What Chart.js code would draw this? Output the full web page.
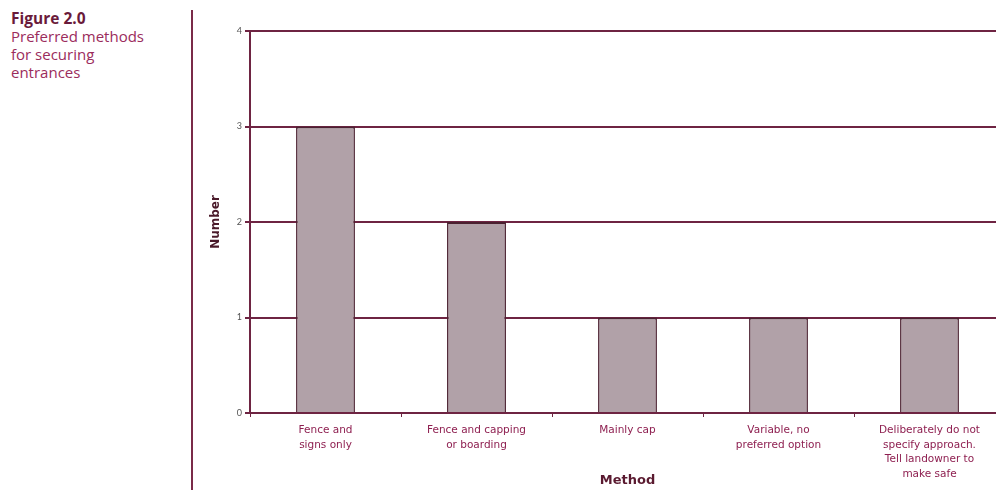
<!DOCTYPE html>
<html>
<head>
<meta charset="utf-8">
<script src="https://cdn.jsdelivr.net/npm/chart.js@4"></script>
<style>
html,body{margin:0;padding:0;background:#fff;overflow:hidden;width:996px;height:490px;}
#title{position:absolute;left:11px;top:9px;font-family:"Open Sans",sans-serif;color:#9b2c5c;font-size:15px;line-height:18px;}
#title b{color:#6a1a3a;font-size:15.5px;}
#divider{position:absolute;left:191px;top:10px;width:2px;height:480px;background:#7a2a48;}
#wrap{position:absolute;left:193px;top:0;width:812px;height:490px;}
</style>
</head>
<body>
<div id="title"><b>Figure 2.0</b><br>Preferred methods<br>for securing<br>entrances</div>
<div id="divider"></div>
<div id="wrap"><canvas id="c"></canvas></div>
<script>
const categories = [
  ["Fence and", "signs only"],
  ["Fence and capping", "or boarding"],
  ["Mainly cap"],
  ["Variable, no", "preferred option"],
  ["Deliberately do not", "specify approach.", "Tell landowner to", "make safe"]
];
const values = [3, 2, 1, 1, 1];
const yTicks = [0, 1, 2, 3, 4];

const maroon = '#6e2442';
new Chart(document.getElementById('c'), {
  type: 'bar',
  data: {
    labels: categories,
    datasets: [{
      data: values,
      backgroundColor: '#b1a1a8',
      borderColor: '#4a2030',
      borderWidth: {top: 2, left: 1.5, right: 1.5, bottom: 0},
      borderSkipped: 'bottom',
      barPercentage: 0.39,
      categoryPercentage: 1.0
    }]
  },
  options: {
    responsive: true,
    maintainAspectRatio: false,
    animation: false,
    devicePixelRatio: 1,
    layout: {padding: {top: 31, right: 0, bottom: 0, left: 0}},
    plugins: {legend: {display: false}, tooltip: {enabled: false}},
    scales: {
      x: {
        afterFit: s => { s.height = 77; },
        grid: {display: true, offset: true, drawOnChartArea: false, drawTicks: true, tickLength: 4, color: maroon, lineWidth: 1},
        border: {display: true, color: maroon, width: 2},
        ticks: {color: '#8e1f50', font: {family: 'DejaVu Sans', size: 10.5, lineHeight: 1.4}, padding: 6, maxRotation: 0, autoSkip: false},
        title: {display: true, text: 'Method', color: '#5a1a30', font: {family: 'DejaVu Sans', size: 13, weight: 'bold'}, padding: {top: 0, bottom: 2}}
      },
      y: {
        min: 0, max: 4,
        afterFit: s => { s.width = 57; },
        afterBuildTicks: s => { s.ticks = yTicks.map(v => ({value: v})); },
        grid: {color: maroon, lineWidth: 2, drawTicks: true, tickLength: 5},
        border: {display: true, color: maroon, width: 2},
        ticks: {color: '#555', font: {family: 'Lato', size: 9}, padding: 3},
        title: {display: true, text: 'Number', color: '#4a1a2a', font: {family: 'DejaVu Sans', size: 12, weight: 'bold'}, padding: {top: 16, bottom: 0}}
      }
    }
  }
});
</script>
</body>
</html>
